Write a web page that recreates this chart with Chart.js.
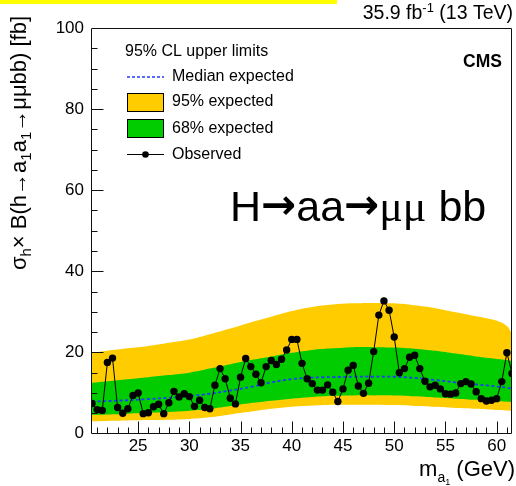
<!DOCTYPE html>
<html>
<head>
<meta charset="utf-8">
<script src="https://cdn.jsdelivr.net/npm/chart.js@4.4.1/dist/chart.umd.min.js"></script>
<style>
  html, body { margin: 0; padding: 0; background: #fff; }
  #wrap { position: relative; width: 516px; height: 486px; }
  #topbar { position: absolute; left: 0; top: 0; width: 337px; height: 4px; background: #ffff00; }
  canvas { display: block; }
</style>
</head>
<body>
<div id="wrap">
  <canvas id="c" width="516" height="486" style="width:516px;height:486px"></canvas>
  <div id="topbar"></div>
</div>
<script>
// Observed 95% CL upper limits, one per a1 mass hypothesis (GeV -> fb)
const massPoints = [
  20.5, 21, 21.5, 22, 22.5, 23, 23.5, 24, 24.5, 25, 25.5, 26, 26.5, 27, 27.5, 28, 28.5, 29, 29.5, 30,
  30.5, 31, 31.5, 32, 32.5, 33, 33.5, 34, 34.5, 35, 35.5, 36, 36.5, 37, 37.5, 38, 38.5, 39, 39.5, 40,
  40.5, 41, 41.5, 42, 42.5, 43, 43.5, 44, 44.5, 45, 45.5, 46, 46.5, 47, 47.5, 48, 48.5, 49, 49.5, 50,
  50.5, 51, 51.5, 52, 52.5, 53, 53.5, 54, 54.5, 55, 55.5, 56, 56.5, 57, 57.5, 58, 58.5, 59, 59.5, 60,
  60.5, 61, 61.5
];
const observedLimit = [
  7.4, 5.9, 5.7, 17.5, 18.6, 6.4, 5.0, 6.1, 9.4, 10.0, 4.9, 5.1, 6.6, 7.2, 4.9, 7.6, 10.4, 9.0, 9.8, 9.1,
  6.7, 8.2, 6.4, 6.1, 11.9, 16.0, 13.5, 8.7, 7.3, 13.9, 18.5, 16.5, 14.6, 12.5, 16.5, 18.0, 17.0, 18.3, 20.6, 23.2,
  23.2, 17.3, 13.5, 12.3, 10.7, 10.7, 12.0, 10.2, 7.9, 11.0, 15.6, 16.8, 11.7, 9.9, 12.4, 20.2, 29.2, 32.7, 30.4, 23.8,
  15.0, 16.0, 18.8, 19.3, 16.0, 12.9, 11.5, 11.9, 11.0, 9.8, 9.7, 10.0, 12.3, 12.8, 12.2, 10.3, 8.6, 8.0, 8.2, 8.6,
  12.8, 19.9, 14.8
];

// Expected limits: median and the 68% / 95% bands
const expMass   = [20.5, 22, 24, 26, 28, 30, 32, 34, 36, 38, 40, 42, 44, 46, 48, 50, 52, 54, 56, 58, 60, 61, 61.5];
const expMedian = [7.9, 8.0, 8.2, 8.5, 8.8, 9.2, 9.8, 10.6, 11.5, 12.6, 13.4, 13.8, 13.9, 14.0, 14.0, 14.0, 13.7, 13.2, 12.6, 12.1, 11.6, 11.3, 11.1];
const expUp1    = [12.5, 12.9, 13.4, 13.9, 14.4, 15.0, 16.0, 17.1, 18.1, 19.0, 19.9, 20.6, 21.0, 21.3, 21.3, 21.2, 20.9, 20.4, 19.7, 19.0, 18.4, 18.1, 17.8];
const expDown1  = [4.6, 4.7, 4.9, 5.1, 5.3, 5.6, 6.1, 6.8, 7.5, 8.1, 8.6, 9.0, 9.3, 9.4, 9.4, 9.4, 9.2, 8.9, 8.6, 8.3, 8.0, 7.8, 7.7];
const expUp2    = [19.9, 20.4, 21.0, 21.6, 22.4, 23.2, 24.5, 25.9, 27.4, 28.8, 30.2, 31.2, 31.8, 32.1, 32.2, 32.1, 31.6, 30.9, 29.9, 28.9, 27.8, 26.5, 24.5];
const expDown2  = [3.0, 3.1, 3.2, 3.3, 3.4, 3.6, 4.0, 4.7, 5.4, 6.1, 6.6, 6.9, 7.1, 7.1, 7.1, 7.0, 6.8, 6.6, 6.3, 6.1, 5.8, 5.7, 5.6];

const xTickValues = [25, 30, 35, 40, 45, 50, 55, 60];
const yTickValues = [0, 20, 40, 60, 80, 100];

const YELLOW = 'rgb(255,204,0)';
const GREEN = 'rgb(0,204,0)';
const BLUE = 'rgb(30,60,255)';
const SANS = '"Liberation Sans", Arial, Helvetica, sans-serif';

const pts = (xs, ys) => xs.map((x, i) => ({ x: x, y: ys[i] }));

function drawRuns(ctx, runs, x, y, align) {
  let w = 0;
  runs.forEach(r => { ctx.font = r[1]; w += ctx.measureText(r[0]).width; });
  let cx = align === 'right' ? x - w : (align === 'center' ? x - w / 2 : x);
  runs.forEach(r => {
    ctx.font = r[1];
    ctx.fillText(r[0], cx, y + (r[2] || 0));
    cx += ctx.measureText(r[0]).width;
  });
  return w;
}

// Frame with inward-pointing major/minor ticks drawn on top of the bands
const frameTicks = {
  id: 'frameTicks',
  afterDatasetsDraw(chart) {
    const { ctx, chartArea: a, scales } = chart;
    const xs = scales.x, ys = scales.y;
    const L = Math.round(a.left) + 0.5, R = Math.round(a.right) - 0.5;
    const T = Math.round(a.top) + 0.5, B = Math.round(a.bottom) - 0.5;
    ctx.save();
    ctx.strokeStyle = '#111';
    ctx.lineWidth = 1;
    ctx.beginPath();
    ctx.moveTo(L, T); ctx.lineTo(R, T); ctx.lineTo(R, B); ctx.lineTo(L, B); ctx.closePath();
    for (let m = 21; m <= 61; m++) {
      const px = Math.round(xs.getPixelForValue(m)) + 0.5;
      const len = (m % 5 === 0) ? 12 : 6;
      ctx.moveTo(px, B); ctx.lineTo(px, B - len);
    }
    for (let v = 5; v < 100; v += 5) {
      const py = Math.round(ys.getPixelForValue(v)) + 0.5;
      const len = (v % 20 === 0) ? 12 : 6;
      ctx.moveTo(L, py); ctx.lineTo(L + len, py);
    }
    ctx.stroke();
    ctx.restore();
  }
};

// Legend, annotations and axis titles
const annotations = {
  id: 'annotations',
  afterDraw(chart) {
    const ctx = chart.ctx;
    ctx.save();
    ctx.fillStyle = '#000';
    ctx.textBaseline = 'alphabetic';

    // luminosity / energy label
    drawRuns(ctx, [
      ['35.9 fb', '19.5px ' + SANS, 0],
      ['-1', '13px ' + SANS, -7.5],
      [' (13 TeV)', '19.5px ' + SANS, 0]
    ], 513, 19, 'right');

    // CMS label
    ctx.font = 'bold 17.5px ' + SANS;
    ctx.fillText('CMS', 463, 67);

    // legend
    ctx.textBaseline = 'middle';
    ctx.font = '16px ' + SANS;
    ctx.fillText('95% CL upper limits', 125, 52);
    ctx.fillText('Median expected', 172, 77);
    ctx.fillText('95% expected', 172, 102);
    ctx.fillText('68% expected', 172, 128.5);
    ctx.fillText('Observed', 172, 154.5);

    ctx.strokeStyle = BLUE;
    ctx.lineWidth = 1.5;
    ctx.setLineDash([3, 2]);
    ctx.beginPath(); ctx.moveTo(127, 77); ctx.lineTo(164, 77); ctx.stroke();
    ctx.setLineDash([]);

    ctx.lineWidth = 1;
    ctx.strokeStyle = '#000';
    ctx.fillStyle = YELLOW;
    ctx.fillRect(127.5, 93.5, 36, 18); ctx.strokeRect(127.5, 93.5, 36, 18);
    ctx.fillStyle = GREEN;
    ctx.fillRect(127.5, 119.5, 36, 18); ctx.strokeRect(127.5, 119.5, 36, 18);

    ctx.beginPath(); ctx.moveTo(127, 154.5); ctx.lineTo(164, 154.5); ctx.stroke();
    ctx.fillStyle = '#000';
    ctx.beginPath(); ctx.arc(145.5, 154.5, 3.3, 0, Math.PI * 2); ctx.fill();

    // process label
    ctx.textBaseline = 'alphabetic';
    drawRuns(ctx, [
      ['H', '43px ' + SANS, 0],
      ['\u2192', 'bold 42px "DejaVu Sans"', -2],
      ['aa', '43px ' + SANS, 0],
      ['\u2192', 'bold 42px "DejaVu Sans"', -2],
      ['\u03bc\u03bc', '44px "Liberation Serif", serif', 0],
      [' bb', '43px ' + SANS, 0]
    ], 230, 221, 'left');

    // x-axis title
    drawRuns(ctx, [
      ['m', '22px ' + SANS, 0],
      ['a', '14px ' + SANS, 6],
      ['1', '9px ' + SANS, 9],
      [' (GeV)', '22px ' + SANS, 0]
    ], 515, 476, 'right');

    // y-axis title (rotated)
    ctx.translate(26, 143);
    ctx.rotate(-Math.PI / 2);
    drawRuns(ctx, [
      ['\u03c3', '22px ' + SANS, 0],
      ['h', '15px ' + SANS, 5],
      ['\u00d7 B(h\u2192a', '22px ' + SANS, 0],
      ['1', '15px ' + SANS, 5],
      ['a', '22px ' + SANS, 0],
      ['1', '15px ' + SANS, 5],
      ['\u2192\u03bc\u03bcbb) [fb]', '22px ' + SANS, 0]
    ], 0, 0, 'center');

    ctx.restore();
  }
};

new Chart(document.getElementById('c'), {
  type: 'line',
  data: {
    datasets: [
      { label: 'Observed', data: pts(massPoints, observedLimit), borderColor: '#000', borderWidth: 1,
        pointRadius: 3.7, pointBackgroundColor: '#000', pointBorderWidth: 0, tension: 0, fill: false },
      { label: 'Median expected', data: pts(expMass, expMedian), borderColor: BLUE, borderWidth: 1.8,
        borderDash: [3, 2.5], pointRadius: 0, tension: 0.4, fill: false },
      { label: '68% expected', data: pts(expMass, expUp1), borderWidth: 0, borderColor: 'rgba(0,0,0,0)',
        backgroundColor: GREEN, pointRadius: 0, tension: 0.4, fill: '+1' },
      { label: '68% low', data: pts(expMass, expDown1), borderWidth: 0, borderColor: 'rgba(0,0,0,0)',
        pointRadius: 0, tension: 0.4, fill: false },
      { label: '95% expected', data: pts(expMass, expUp2), borderWidth: 0, borderColor: 'rgba(0,0,0,0)',
        backgroundColor: YELLOW, pointRadius: 0, tension: 0.4, fill: '+1' },
      { label: '95% low', data: pts(expMass, expDown2), borderWidth: 0, borderColor: 'rgba(0,0,0,0)',
        pointRadius: 0, tension: 0.4, fill: false }
    ]
  },
  options: {
    responsive: false,
    animation: false,
    devicePixelRatio: 1,
    events: [],
    layout: { padding: { top: 28, right: 3, left: 0, bottom: 0 } },
    plugins: { legend: { display: false }, tooltip: { enabled: false }, title: { display: false } },
    scales: {
      x: {
        type: 'linear', min: 20.4, max: 61.5,
        grid: { display: false, drawTicks: false }, border: { display: false },
        afterBuildTicks: s => { s.ticks = xTickValues.map(v => ({ value: v })); },
        afterFit: s => { s.height = 52.5; },
        ticks: { color: '#000', font: { family: SANS, size: 17 }, padding: 3, maxRotation: 0, autoSkip: false }
      },
      y: {
        type: 'linear', min: 0, max: 100,
        grid: { display: false, drawTicks: false }, border: { display: false },
        afterBuildTicks: s => { s.ticks = yTickValues.map(v => ({ value: v })); },
        afterFit: s => { s.width = 91; },
        ticks: { color: '#000', font: { family: SANS, size: 17 }, padding: 7 }
      }
    }
  },
  plugins: [frameTicks, annotations]
});
</script>
</body>
</html>
